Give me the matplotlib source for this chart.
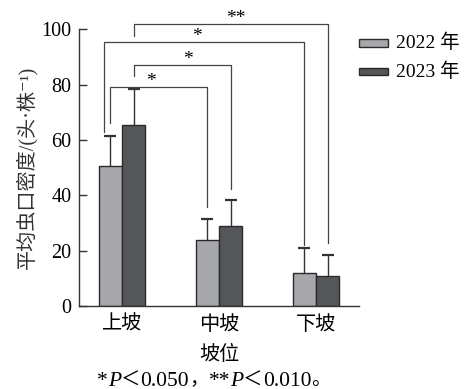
import matplotlib
matplotlib.use("Agg")
import matplotlib.pyplot as plt
from matplotlib.patches import Rectangle
import numpy as np

plt.rcParams['font.family'] = ['Liberation Serif', 'Noto Sans CJK SC', 'DejaVu Serif']

# Data
positions = ['上坡', '中坡', '下坡']
years = ['2022 年', '2023 年']
mean_2022 = [50.7, 23.7, 12.0]
mean_2023 = [65.3, 28.9, 10.7]
err_2022 = [10.7, 7.9, 9.0]
err_2023 = [13.0, 9.4, 7.8]
yticks = [0, 20, 40, 60, 80, 100]

# Significance brackets: (x_left, x_right, y_left_bottom, y_top, y_right_bottom, label, star_x, star_y)
brackets = [
    (-0.12, 0.88, 66.3, 79.3, 35.9, '*', 0.30, 81.2),
    (0.12, 1.12, 83.3, 87.1, 42.4, '*', 0.68, 89.2),
    (-0.185, 1.88, 62.9, 95.4, 22.0, '*', 0.77, 97.4),
    (0.12, 2.12, 97.6, 101.9, 22.9, '**', 1.17, 104.0),
]

colors = ['#a7a8ac', '#55565a']
edge = '#2a2a2a'

fig = plt.figure(figsize=(4.66, 3.89), dpi=100)
ax = fig.add_axes([79.3 / 466, 83 / 389, 280 / 466, 276.7 / 389])

x = np.arange(len(positions))
w = 0.24
cap_half = 0.062
for i, (means, errs) in enumerate([(mean_2022, err_2022), (mean_2023, err_2023)]):
    xs = x + (i - 0.5) * w
    means = np.array(means)
    tops = means + np.array(errs)
    ax.bar(xs, means, width=w, color=colors[i], edgecolor=edge, linewidth=1.0,
           zorder=2)
    ax.vlines(xs, means, tops, color='#333333', lw=1.0, zorder=1)
    ax.hlines(tops, xs - cap_half, xs + cap_half, color='#333333', lw=1.6, zorder=1)

ax.set_xlim(-0.44, 2.446)
ax.set_ylim(0, 100)
ax.set_yticks(yticks)
ax.set_xticks(x)
ax.set_xticklabels(positions, fontsize=14.5)
ax.tick_params(axis='x', length=0, pad=7)
ax.tick_params(axis='y', direction='in', length=5.8, width=1.0, pad=5.5,
               labelsize=14.5, color='#333333')
for s in ['top', 'right']:
    ax.spines[s].set_visible(False)
for s in ['left', 'bottom']:
    ax.spines[s].set_linewidth(1.0)
    ax.spines[s].set_color('#333333')

ax.set_ylabel('平均虫口密度/(头·株⁻¹)', fontsize=14.5, labelpad=3, color='#333333')
ax.set_xlabel('坡位', fontsize=14.5, labelpad=8)

# Significance brackets
for xl, xr, yl, yt, yr, lab, sx, sy in brackets:
    ax.plot([xl, xl, xr, xr], [yl, yt, yt, yr], color='#444444', lw=0.9,
            clip_on=False, zorder=3)
    ax.text(sx, sy, lab, ha='center', va='center', fontsize=14, clip_on=False)

# Legend drawn as patches and labels
for i, lab in enumerate(years):
    yc = 43 + i * 28.7
    fig.patches.append(Rectangle((359.3 / 466, 1 - (yc + 3.6) / 389), 29 / 466, 7.2 / 389,
                                 transform=fig.transFigure, facecolor=colors[i],
                                 edgecolor=edge, linewidth=1.0))
    fig.text(396 / 466, 1 - yc / 389, lab, ha='left', va='center', fontsize=14)

# Footnote with italic P; each run set in its own font
serif = ['Liberation Serif']
cjk = ['Noto Sans CJK SC']
pieces = [('*', 'normal', serif, 15.5), ('P', 'italic', serif, 15.5),
          ('＜', 'normal', cjk, 14), ('0.050', 'normal', serif, 15.5),
          ('，', 'normal', cjk, 14),
          ('**', 'normal', serif, 15.5), ('P', 'italic', serif, 15.5),
          ('＜', 'normal', cjk, 14), ('0.010', 'normal', serif, 15.5),
          ('。', 'normal', cjk, 14)]
renderer = fig.canvas.get_renderer()
texts = []
for s, st, fam, fs in pieces:
    t = fig.text(0, 1 - 385.5 / 389, s, style=st, family=fam, fontsize=fs,
                 va='baseline', ha='left')
    texts.append(t)
widths = [t.get_window_extent(renderer).width for t in texts]
total = sum(widths)
start = 214 - total / 2
for t, wd in zip(texts, widths):
    t.set_x(start / 466)
    start += wd

fig.savefig('out.png', dpi=100)
